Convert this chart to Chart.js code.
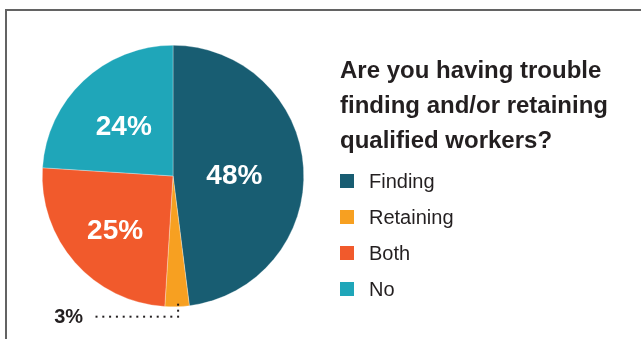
<!DOCTYPE html>
<html>
<head>
<meta charset="utf-8">
<script src="https://cdn.jsdelivr.net/npm/chart.js@4/dist/chart.umd.min.js"></script>
<style>
  html, body { margin: 0; padding: 0; background: #fff; }
  #wrap { position: relative; width: 641px; height: 339px; overflow: hidden; font-family: "Liberation Sans", Arial, sans-serif; }
  #frame { position: absolute; left: 5px; top: 9px; width: 700px; height: 400px; border-top: 2px solid #636363; border-left: 2px solid #636363; }
  #chart { position: absolute; left: 0; top: 0; }
  #title { position: absolute; left: 340px; top: 52px; font-size: 24px; font-weight: bold; line-height: 35px; color: #231f20; }
  #legend { position: absolute; left: 340px; top: 163px; }
  .row { position: relative; height: 36px; line-height: 36px; font-size: 20px; color: #231f20; padding-left: 29px; white-space: nowrap; }
  .box { position: absolute; left: 0; top: 11px; width: 14px; height: 14px; }
</style>
</head>
<body>
<div id="wrap">
  <div id="frame"></div>
  <canvas id="chart" width="641" height="339"></canvas>
  <div id="title">Are you having trouble<br>finding and/or retaining<br>qualified workers?</div>
  <div id="legend"></div>
</div>
<script>
const categories = ["Finding", "Retaining", "Both", "No"];
const shares = [48, 3, 25, 24];
const colors = ["#185d72", "#f7a021", "#f15a2c", "#1fa6b9"];

// legend built from the same arrays
const legend = document.getElementById("legend");
categories.forEach((c, i) => {
  const row = document.createElement("div");
  row.className = "row";
  row.innerHTML = '<span class="box" style="background:' + colors[i] + '"></span>' + c;
  legend.appendChild(row);
});

const pieLabels = {
  id: "pieLabels",
  afterDatasetsDraw(chart, args, opts) {
    const ctx = chart.ctx;
    const meta = chart.getDatasetMeta(0);
    ctx.save();
    meta.data.forEach((arc, i) => {
      const p = arc.getProps(["x", "y", "startAngle", "endAngle", "outerRadius"], true);
      const mid = (p.startAngle + p.endAngle) / 2;
      const text = shares[i] + "%";
      if (i === opts.calloutIndex) {
        const ex = p.x + Math.cos(mid) * p.outerRadius + 1;
        const ey = p.y + Math.sin(mid) * p.outerRadius;
        const ly = ey + 10;
        ctx.fillStyle = "#231f20";
        for (let y = ey - 2; y <= ly; y += 6) ctx.fillRect(ex - 1, y - 1, 2, 2);
        for (let x = ex - 6.8; x >= ex - 88; x -= 6.8) ctx.fillRect(x - 1, ly - 1, 2, 2);
        ctx.font = "bold 20px 'Liberation Sans', Arial, sans-serif";
        ctx.textAlign = "right";
        ctx.textBaseline = "middle";
        ctx.fillText(text, ex - 95, ly + 1);
      } else {
        const f = opts.radial[i];
        const x = p.x + Math.cos(mid) * p.outerRadius * f;
        const y = p.y + Math.sin(mid) * p.outerRadius * f;
        ctx.fillStyle = "#ffffff";
        ctx.font = "bold 28px 'Liberation Sans', Arial, sans-serif";
        ctx.textAlign = "center";
        ctx.textBaseline = "middle";
        ctx.fillText(text, x, y + 4);
      }
    });
    ctx.restore();
  }
};

new Chart(document.getElementById("chart"), {
  type: "pie",
  data: {
    labels: categories,
    datasets: [{
      data: shares,
      backgroundColor: colors,
      borderColor: "rgba(255,255,255,0.6)",
      borderWidth: 0.5
    }]
  },
  options: {
    responsive: false,
    animation: false,
    layout: { padding: { left: 42, top: 45, right: 337, bottom: 32 } },
    plugins: {
      legend: { display: false },
      tooltip: { enabled: false },
      pieLabels: { calloutIndex: 1, radial: [0.47, 0, 0.59, 0.55] }
    }
  },
  plugins: [pieLabels]
});
</script>
</body>
</html>
